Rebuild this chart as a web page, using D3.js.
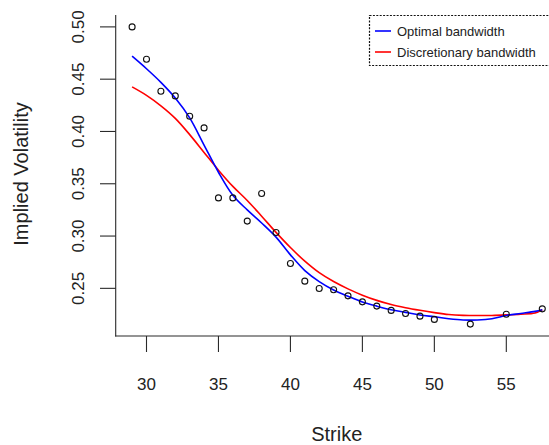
<!DOCTYPE html>
<html><head><meta charset="utf-8">
<script src="https://cdn.jsdelivr.net/npm/d3@7"></script>
<style>body{margin:0;background:#fff}svg{display:block}text{font-family:"Liberation Sans",Arial,sans-serif;fill:#222}</style>
</head><body><svg id="c" width="549" height="445"></svg>
<script>
const strikes = [29,30,31,32,33,34,35,36,37,38,39,40,41,42,43,44,45,46,47,48,49,50,52.5,55,57.5];
const impliedVol = [0.500,0.469,0.4385,0.434,0.4146,0.4034,0.3365,0.3365,0.3143,0.3407,0.3034,0.2738,0.2569,0.2499,0.2486,0.2428,0.2371,0.2330,0.2289,0.2260,0.2234,0.2203,0.2158,0.2253,0.2304];
const curveX = [29,30,31,32,33,34,35,36,37,38,39,40,41,42,43,44,45,46,47,48,49,50,51,52,53,54,55,56,57,57.5];
const optimalBw = [0.472,0.460,0.447,0.432,0.413,0.387,0.361,0.339,0.325,0.3125,0.299,0.282,0.267,0.2565,0.2485,0.2425,0.237,0.233,0.2295,0.227,0.2245,0.2228,0.221,0.2198,0.2198,0.221,0.224,0.226,0.228,0.2295];
const discretionaryBw = [0.4426,0.4345,0.4245,0.4125,0.397,0.380,0.363,0.3475,0.334,0.319,0.3035,0.289,0.276,0.265,0.2565,0.2495,0.2435,0.2385,0.2345,0.2315,0.229,0.2268,0.225,0.2242,0.224,0.2241,0.2246,0.2253,0.2265,0.2295];
const xTicks = [30,35,40,45,50,55];
const yTicks = [0.25,0.30,0.35,0.40,0.45,0.50];
const legendLabels = ["Optimal bandwidth","Discretionary bandwidth"];
const legendColors = ["#0000ff","#ff0000"];

const svg = d3.select("#c");
const xr = d3.extent(strikes), yr = d3.extent(impliedVol);
const xp = (xr[1]-xr[0])*0.04, yp = (yr[1]-yr[0])*0.04;
const x = d3.scaleLinear().domain([xr[0]-xp, xr[1]+xp]).range([115.7, 558.7]);
const y = d3.scaleLinear().domain([yr[0]-yp, yr[1]+yp]).range([336, 15]);
const axCol = "#2a2a2a";

// L-shaped frame
svg.append("line").attr("x1",115.7).attr("x2",115.7).attr("y1",15).attr("y2",336.5).attr("stroke",axCol).attr("stroke-width",1.1);
svg.append("line").attr("x1",115.2).attr("x2",560).attr("y1",336).attr("y2",336).attr("stroke",axCol).attr("stroke-width",1.1);

// x axis
const xa = svg.append("g");
xTicks.forEach(t=>{
  xa.append("line").attr("x1",x(t)).attr("x2",x(t)).attr("y1",336).attr("y2",352).attr("stroke",axCol).attr("stroke-width",1.1);
  xa.append("text").attr("x",x(t)).attr("y",389.5).attr("text-anchor","middle").attr("font-size",17).text(t);
});
// y axis
const ya = svg.append("g");
yTicks.forEach(t=>{
  ya.append("line").attr("x1",100).attr("x2",115.7).attr("y1",y(t)).attr("y2",y(t)).attr("stroke",axCol).attr("stroke-width",1.1);
  ya.append("text").attr("transform",`translate(83.5,${y(t)}) rotate(-90)`).attr("text-anchor","middle").attr("font-size",17).text(t.toFixed(2));
});

svg.append("text").attr("x",336.7).attr("y",441).attr("text-anchor","middle").attr("font-size",20).text("Strike");
svg.append("text").attr("transform","translate(28,174) rotate(-90)").attr("text-anchor","middle").attr("font-size",20).text("Implied Volatility");

// curves
const line = d3.line().x(d=>x(d[0])).y(d=>y(d[1])).curve(d3.curveCatmullRom);
svg.append("path").attr("d",line(curveX.map((v,i)=>[v,discretionaryBw[i]]))).attr("fill","none").attr("stroke",legendColors[1]).attr("stroke-width",1.6);
svg.append("path").attr("d",line(curveX.map((v,i)=>[v,optimalBw[i]]))).attr("fill","none").attr("stroke",legendColors[0]).attr("stroke-width",1.6);

// points
svg.append("g").selectAll("circle").data(strikes.map((s,i)=>[s,impliedVol[i]])).join("circle")
  .attr("cx",d=>x(d[0])).attr("cy",d=>y(d[1])).attr("r",3).attr("fill","none").attr("stroke","#111").attr("stroke-width",1.1);

// legend
const lg = svg.append("g");
lg.append("rect").attr("x",369.5).attr("y",15.5).attr("width",200).attr("height",50).attr("fill","#fff").attr("stroke","#111").attr("stroke-width",1.2).attr("stroke-dasharray","2,1.4");
legendLabels.forEach((lab,i)=>{
  const ly = 31 + i*21;
  lg.append("line").attr("x1",375).attr("x2",391).attr("y1",ly).attr("y2",ly).attr("stroke",legendColors[i]).attr("stroke-width",1.6);
  lg.append("text").attr("x",397).attr("y",ly+4.6).attr("font-size",13).text(lab);
});
</script></body></html>
